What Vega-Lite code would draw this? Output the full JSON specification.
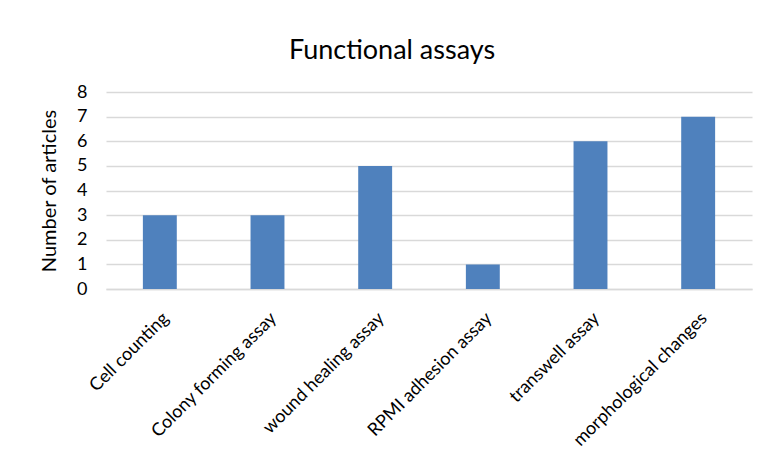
{
  "$schema": "https://vega.github.io/schema/vega-lite/v6.json",
  "autosize": "none",
  "width": 646,
  "height": 197,
  "padding": {"left": 106, "top": 92, "right": 10, "bottom": 180},
  "background": "white",
  "title": {
    "text": "Functional assays",
    "fontSize": 27,
    "font": "Lato",
    "fontWeight": "normal",
    "color": "#000000",
    "offset": 18,
    "dx": -37
  },
  "data": {
    "values": [
      {"assay": "Cell counting", "count": 3},
      {"assay": "Colony forming assay", "count": 3},
      {"assay": "wound healing assay", "count": 5},
      {"assay": "RPMI adhesion assay", "count": 1},
      {"assay": "transwell assay", "count": 6},
      {"assay": "morphological changes", "count": 7}
    ]
  },
  "mark": {"type": "bar", "color": "#4F81BD"},
  "encoding": {
    "x": {
      "field": "assay",
      "type": "nominal",
      "sort": null,
      "scale": {"paddingInner": 0.685, "paddingOuter": 0.3425},
      "axis": {
        "title": null,
        "labelAngle": -45,
        "labelAlign": "right",
        "labelBaseline": "top",
        "labelFont": "Lato",
        "labelFontSize": 18,
        "labelColor": "#000000",
        "labelPadding": 20,
        "labelLimit": 300,
        "ticks": false,
        "domainColor": "#D9D9D9",
        "domainWidth": 1.5
      }
    },
    "y": {
      "field": "count",
      "type": "quantitative",
      "scale": {"domain": [0, 8]},
      "axis": {
        "title": "Number of articles",
        "titleFont": "Lato",
        "titleFontSize": 20,
        "titleFontWeight": "normal",
        "titleColor": "#000000",
        "titlePadding": 17,
        "values": [0, 1, 2, 3, 4, 5, 6, 7, 8],
        "labelFont": "Lato",
        "labelFontSize": 18,
        "labelColor": "#000000",
        "labelPadding": 19,
        "ticks": false,
        "domain": false,
        "gridColor": "#D9D9D9",
        "gridWidth": 1.3
      }
    }
  },
  "config": {"view": {"stroke": null}}
}
